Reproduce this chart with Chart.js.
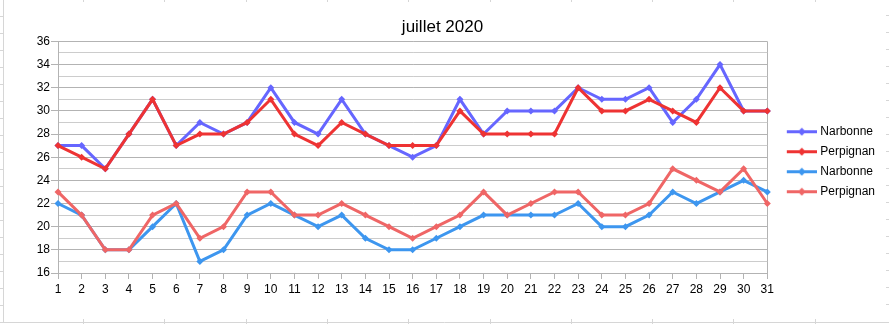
<!DOCTYPE html>
<html lang="fr">
<head>
<meta charset="utf-8">
<title>juillet 2020</title>
<script src="https://cdn.jsdelivr.net/npm/chart.js@4/dist/chart.umd.min.js"></script>
<style>
    html, body { margin: 0; padding: 0; background: #fff; }
    #wrap { width: 889px; height: 324px; position: relative; }
</style>
</head>
<body>
<div id="wrap"><canvas id="tempChart"></canvas></div>
<script>
// ===== DATA =====
const days = ['1', '2', '3', '4', '5', '6', '7', '8', '9', '10', '11', '12', '13', '14', '15', '16',
    '17', '18', '19', '20', '21', '22', '23', '24', '25', '26', '27', '28', '29', '30', '31'];

// maximales
const narbonneMax = [27, 27, 25, 28, 31, 27, 29, 28, 29, 32, 29, 28, 31, 28, 27, 26,
    27, 31, 28, 30, 30, 30, 32, 31, 31, 32, 29, 31, 34, 30, 30];
const perpignanMax = [27, 26, 25, 28, 31, 27, 28, 28, 29, 31, 28, 27, 29, 28, 27, 27,
    27, 30, 28, 28, 28, 28, 32, 30, 30, 31, 30, 29, 32, 30, 30];

// minimales
const narbonneMin = [22, 21, 18, 18, 20, 22, 17, 18, 21, 22, 21, 20, 21, 19, 18, 18,
    19, 20, 21, 21, 21, 21, 22, 20, 20, 21, 23, 22, 23, 24, 23];
const perpignanMin = [23, 21, 18, 18, 21, 22, 19, 20, 23, 23, 21, 21, 22, 21, 20, 19,
    20, 21, 23, 21, 22, 23, 23, 21, 21, 22, 25, 24, 23, 25, 22];

const yMin = 16;
const yMax = 36;
const yLabelStep = 2;

// ===== COLORS =====
const GRID = '#b3b3b3';
const GRID_MINOR = '#cccccc';
const FONT = "'Liberation Sans', Arial, sans-serif";

// small line + diamond used as legend symbol
function legendSymbol(color) {
    const c = document.createElement('canvas');
    c.width = 44;
    c.height = 9;
    const g = c.getContext('2d');
    g.strokeStyle = color;
    g.lineWidth = 3;
    g.beginPath();
    g.moveTo(14, 4.5);
    g.lineTo(44, 4.5);
    g.stroke();
    g.fillStyle = color;
    g.beginPath();
    g.moveTo(29, 0.5);
    g.lineTo(33, 4.5);
    g.lineTo(29, 8.5);
    g.lineTo(25, 4.5);
    g.closePath();
    g.fill();
    return c;
}

function series(label, data, color, order) {
    return {
        label: label,
        data: data,
        borderColor: color,
        backgroundColor: color,
        borderWidth: 3,
        pointStyle: 'rectRot',
        pointRadius: 3.5,
        pointBorderWidth: 0,
        pointBackgroundColor: color,
        tension: 0,
        fill: false,
        order: order,
        legendSymbol: legendSymbol(color)
    };
}

// faint spreadsheet cells around the chart object
const sheetBackground = {
    id: 'sheetBackground',
    beforeDraw(chart) {
        const c = chart.ctx;
        const w = chart.width, h = chart.height;
        c.save();
        c.fillStyle = '#ffffff';
        c.fillRect(0, 0, w, h);
        c.strokeStyle = '#d6d6d6';
        c.lineWidth = 1;
        c.beginPath();
        c.moveTo(3.5, 0);
        c.lineTo(3.5, 322);
        c.moveTo(0, 322.5);
        c.lineTo(w, 322.5);
        for (let y = 16; y < 322; y += 17) {
            c.moveTo(0, y + 0.5); c.lineTo(3, y + 0.5);
            c.moveTo(w - 3, y - 0.5); c.lineTo(w, y - 0.5);
        }
        for (let x = 83; x < w; x += 81.3) {
            const px = Math.round(x) + 0.5;
            c.moveTo(px, 0); c.lineTo(px, 2);
            c.moveTo(px, 319); c.lineTo(px, h);
        }
        c.stroke();
        c.restore();
    }
};

document.addEventListener('DOMContentLoaded', function() {
    const ctx = document.getElementById('tempChart');

    const config = {
        type: 'line',
        data: {
            labels: days,
            datasets: [
                series('Narbonne', narbonneMax, '#6666ff', 4),
                series('Perpignan', perpignanMax, '#ee3333', 3),
                series('Narbonne', narbonneMin, '#3d96ef', 2),
                series('Perpignan', perpignanMin, '#ef6666', 1)
            ]
        },
        options: {
            responsive: true,
            maintainAspectRatio: false,
            animation: false,
            layout: {
                padding: { left: 0, right: 4, top: 0, bottom: 24.6 }
            },
            plugins: {
                title: {
                    display: true,
                    text: 'juillet 2020',
                    color: '#000',
                    font: { family: FONT, size: 17, weight: 'normal' },
                    padding: { top: 17.5, bottom: 3.5 }
                },
                legend: {
                    position: 'right',
                    fullSize: false,
                    title: { display: true, text: '', padding: 1.5, font: { size: 5 } },
                    labels: {
                        usePointStyle: true,
                        pointStyleWidth: 39,
                        padding: 8,
                        color: '#000',
                        font: { family: FONT, size: 12 },
                        sort: (a, b) => a.datasetIndex - b.datasetIndex,
                        generateLabels: function(chart) {
                            const items = Chart.defaults.plugins.legend.labels.generateLabels(chart);
                            items.forEach(item => {
                                item.pointStyle = chart.data.datasets[item.datasetIndex].legendSymbol;
                            });
                            return items;
                        }
                    }
                },
                tooltip: { enabled: false }
            },
            scales: {
                x: {
                    grid: {
                        color: c => c.index === days.length - 1 ? GRID : 'transparent',
                        tickColor: GRID,
                        tickLength: 6
                    },
                    border: { color: GRID },
                    ticks: {
                        color: '#000',
                        autoSkip: false,
                        maxRotation: 0,
                        padding: 3,
                        font: { family: FONT, size: 12 }
                    }
                },
                y: {
                    min: yMin,
                    max: yMax,
                    afterFit: scale => { scale.width = 58; },
                    grid: {
                        color: c => (c.tick && c.tick.value % yLabelStep === 0) ? GRID : GRID_MINOR,
                        tickColor: c => (c.tick && c.tick.value % yLabelStep === 0) ? GRID : 'transparent',
                        tickLength: 7
                    },
                    border: { color: GRID },
                    ticks: {
                        stepSize: 1,
                        autoSkip: false,
                        color: '#000',
                        padding: 1,
                        font: { family: FONT, size: 12 },
                        callback: function(value) {
                            return value % yLabelStep === 0 ? value : '';
                        }
                    }
                }
            }
        },
        plugins: [sheetBackground]
    };

    new Chart(ctx, config);
});
</script>
</body>
</html>
